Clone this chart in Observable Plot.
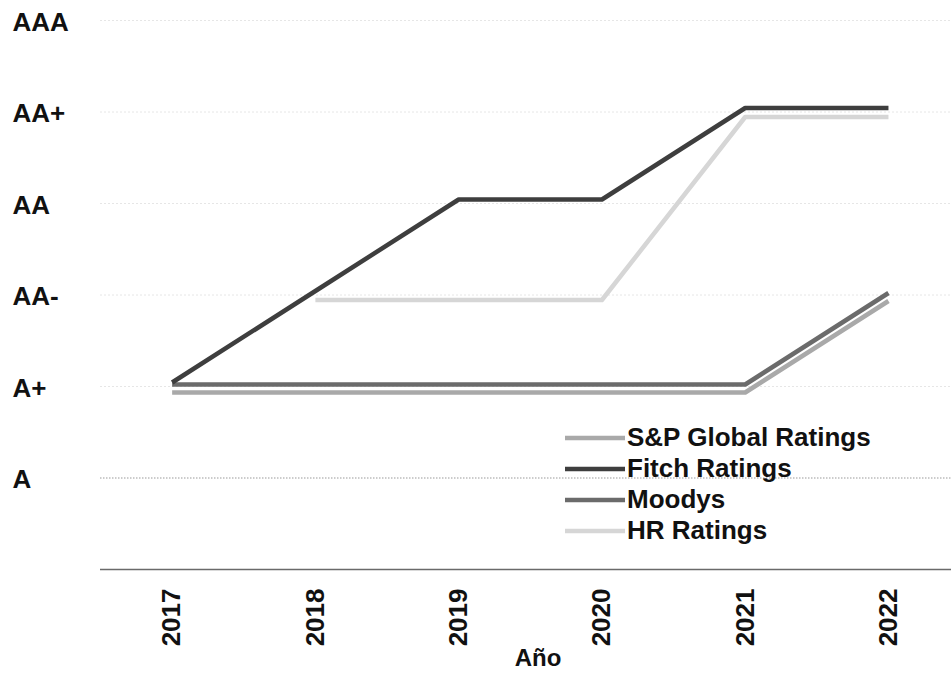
<!DOCTYPE html>
<html>
<head>
<meta charset="utf-8">
<script src="https://cdn.jsdelivr.net/npm/d3@7"></script>
<script src="https://cdn.jsdelivr.net/npm/@observablehq/plot@0.6"></script>
<style>
  html, body { margin: 0; padding: 0; background: #fff; }
  #wrap { position: relative; width: 951px; height: 675px; font-family: "Liberation Sans", Arial, Helvetica, sans-serif; }
  #legend { position: absolute; left: 565px; top: 422px; }
  .row { display: flex; align-items: center; height: 31px; }
  .row span { font-size: 26px; font-weight: bold; color: #111; margin-left: 2px; line-height: 31px; }
</style>
</head>
<body>
<div id="wrap"></div>
<script>
const years = [2017, 2018, 2019, 2020, 2021, 2022];
const ratingScale = ["A-", "A", "A+", "AA-", "AA", "AA+", "AAA"];
const tickRatings = ["A", "A+", "AA-", "AA", "AA+", "AAA"];
const seriesNames = ["S&P Global Ratings", "Fitch Ratings", "Moodys", "HR Ratings"];
const spRatings = ["A+", "A+", "A+", "A+", "A+", "AA-"];
const fitchRatings = ["A+", "AA-", "AA", "AA", "AA+", "AA+"];
const moodysRatings = ["A+", "A+", "A+", "A+", "A+", "AA-"];
const hrRatings = [null, "AA-", "AA-", "AA-", "AA+", "AA+"];
const seriesColors = ["#a9a9a9", "#3e3e3e", "#6b6b6b", "#d6d6d6"];
const seriesOffsets = [6, -4, -2, 5];

const idx = r => ratingScale.indexOf(r);
function toRows(ratings) {
  return years.map((y, i) => ({year: y, v: ratings[i] == null ? NaN : idx(ratings[i])}))
              .filter(d => !isNaN(d.v));
}
const allSeries = [spRatings, fitchRatings, moodysRatings, hrRatings].map(toRows);
const tickVals = tickRatings.map(idx);
const drawOrder = [3, 0, 2, 1];

const chart = Plot.plot({
  width: 951,
  height: 675,
  marginLeft: 100,
  marginRight: 0,
  marginTop: 20,
  marginBottom: 106,
  style: {fontFamily: "'Liberation Sans', Arial, Helvetica, sans-serif", background: "#fff"},
  x: {type: "linear", domain: [2016.5, 2022.44]},
  y: {domain: [0, 6]},
  marks: [
    Plot.ruleY(tickVals.filter(v => v !== idx("A")), {stroke: "#e6e6e6", strokeWidth: 1, strokeDasharray: "2,2"}),
    Plot.ruleY([idx("A")], {stroke: "#9a9a9a", strokeWidth: 1.2, strokeDasharray: "1.5,1.5"}),
    Plot.ruleY([0], {stroke: "#6a6a6a", strokeWidth: 1.6}),
    ...drawOrder.map(i => Plot.line(allSeries[i], {
      x: "year", y: "v", stroke: seriesColors[i], strokeWidth: 4.5,
      dy: seriesOffsets[i], strokeLinejoin: "round", strokeLinecap: "butt"
    })),
    Plot.axisY({
      ticks: tickVals, tickFormat: v => ratingScale[v], tickSize: 0, tickPadding: 0,
      textAnchor: "start", dx: -88, dy: 2, fontSize: 26, fontWeight: "bold", fill: "#111", label: null
    }),
    Plot.axisX({
      ticks: years, tickFormat: d => String(d), tickSize: 0, tickPadding: 19, tickRotate: -90,
      fontSize: 26, fontWeight: "bold", fill: "#111", label: null
    }),
    Plot.text(["Año"], {frameAnchor: "bottom", dy: 96, dx: 12, fontSize: 24, fontWeight: "bold", fill: "#111"})
  ]
});

const wrap = document.getElementById("wrap");
wrap.appendChild(chart);

const legend = document.createElement("div");
legend.id = "legend";
seriesNames.forEach((name, i) => {
  const row = document.createElement("div");
  row.className = "row";
  row.innerHTML = `<svg width="60" height="31"><line x1="0" x2="60" y1="16" y2="16" stroke="${seriesColors[i]}" stroke-width="4.5"/></svg><span>${name.replace("&", "&amp;")}</span>`;
  legend.appendChild(row);
});
wrap.appendChild(legend);
</script>
</body>
</html>
